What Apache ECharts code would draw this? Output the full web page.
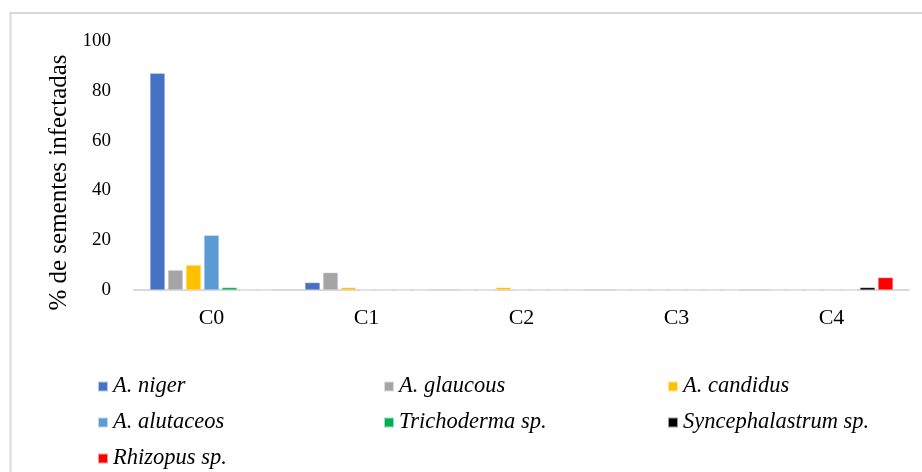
<!DOCTYPE html>
<html>
<head>
<meta charset="utf-8">
<script src="https://cdn.jsdelivr.net/npm/echarts@6/dist/echarts.min.js"></script>
<style>
  html, body { margin: 0; padding: 0; background: #fff; }
  #chart { width: 922px; height: 472px; }
</style>
</head>
<body>
<div id="chart"></div>
<script>
// Categories and infection percentages per fungus
const categories = ['C0', 'C1', 'C2', 'C3', 'C4'];
const yTicks = [0, 20, 40, 60, 80, 100];

const aNiger = [87, 3, 0, 0, 0];
const aGlaucous = [8, 7, 0, 0, 0];
const aCandidus = [10, 1, 1, 0, 0];
const aAlutaceos = [22, 0, 0, 0, 0];
const trichoderma = [1, 0, 0, 0, 0];
const syncephalastrum = [0, 0, 0, 0, 1];
const rhizopus = [0, 0, 0, 0, 5];

const seriesNames = ['A. niger', 'A. glaucous', 'A. candidus', 'A. alutaceos',
  'Trichoderma sp.', 'Syncephalastrum sp.', 'Rhizopus sp.'];
const seriesValues = [aNiger, aGlaucous, aCandidus, aAlutaceos, trichoderma, syncephalastrum, rhizopus];
const seriesColors = ['#4472C4', '#A5A5A5', '#FFC000', '#5B9BD5', '#00B050', '#000000', '#FF0000'];

const serif = '"Liberation Serif", "Times New Roman", serif';

const chart = echarts.init(document.getElementById('chart'), null, { renderer: 'canvas' });

const legendStyle = {
  orient: 'vertical',
  top: 375,
  itemWidth: 10,
  itemHeight: 10,
  itemGap: 13,
  icon: 'rect',
  textStyle: { fontFamily: serif, fontStyle: 'italic', fontSize: 22.5, color: '#000', lineHeight: 20, padding: [0, 0, 0, 0] },
  padding: 0
};

chart.setOption({
  animation: false,
  backgroundColor: '#fff',
  graphic: [{
    type: 'rect',
    shape: { x: 10.5, y: 13, width: 930, height: 480 },
    style: { fill: 'none', stroke: '#d9d9d9', lineWidth: 2 },
    silent: true
  }],
  legend: [
    Object.assign({}, legendStyle, { left: 97, data: [seriesNames[0], seriesNames[3], seriesNames[6]] }),
    Object.assign({}, legendStyle, { left: 383, data: [seriesNames[1], seriesNames[4]] }),
    Object.assign({}, legendStyle, { left: 667, data: [seriesNames[2], seriesNames[5]] })
  ],
  grid: { left: 134, right: 13, top: 41, bottom: 182, containLabel: false },
  xAxis: {
    type: 'category',
    data: categories,
    axisLine: { lineStyle: { color: '#d9d9d9', width: 2 } },
    axisTick: { show: false },
    axisLabel: { fontFamily: serif, fontSize: 22, color: '#000', margin: 17 }
  },
  yAxis: {
    type: 'value',
    min: yTicks[0],
    max: yTicks[yTicks.length - 1],
    interval: yTicks[1] - yTicks[0],
    name: '% de sementes infectadas',
    nameLocation: 'middle',
    nameRotate: 90,
    nameGap: 62,
    nameTextStyle: { fontFamily: serif, fontSize: 25, color: '#000', padding: [0, 34, 0, 0] },
    axisLine: { show: false },
    axisTick: { show: false },
    splitLine: { show: false },
    axisLabel: { fontFamily: serif, fontSize: 19, color: '#000', margin: 23 }
  },
  series: seriesNames.map((name, i) => ({
    name: name,
    type: 'bar',
    data: seriesValues[i],
    barGap: '20%',
    barCategoryGap: '20.6%',
    itemStyle: { color: seriesColors[i], borderColor: 'rgba(255,255,255,0.6)', borderWidth: 0.5 }
  }))
});
</script>
</body>
</html>
